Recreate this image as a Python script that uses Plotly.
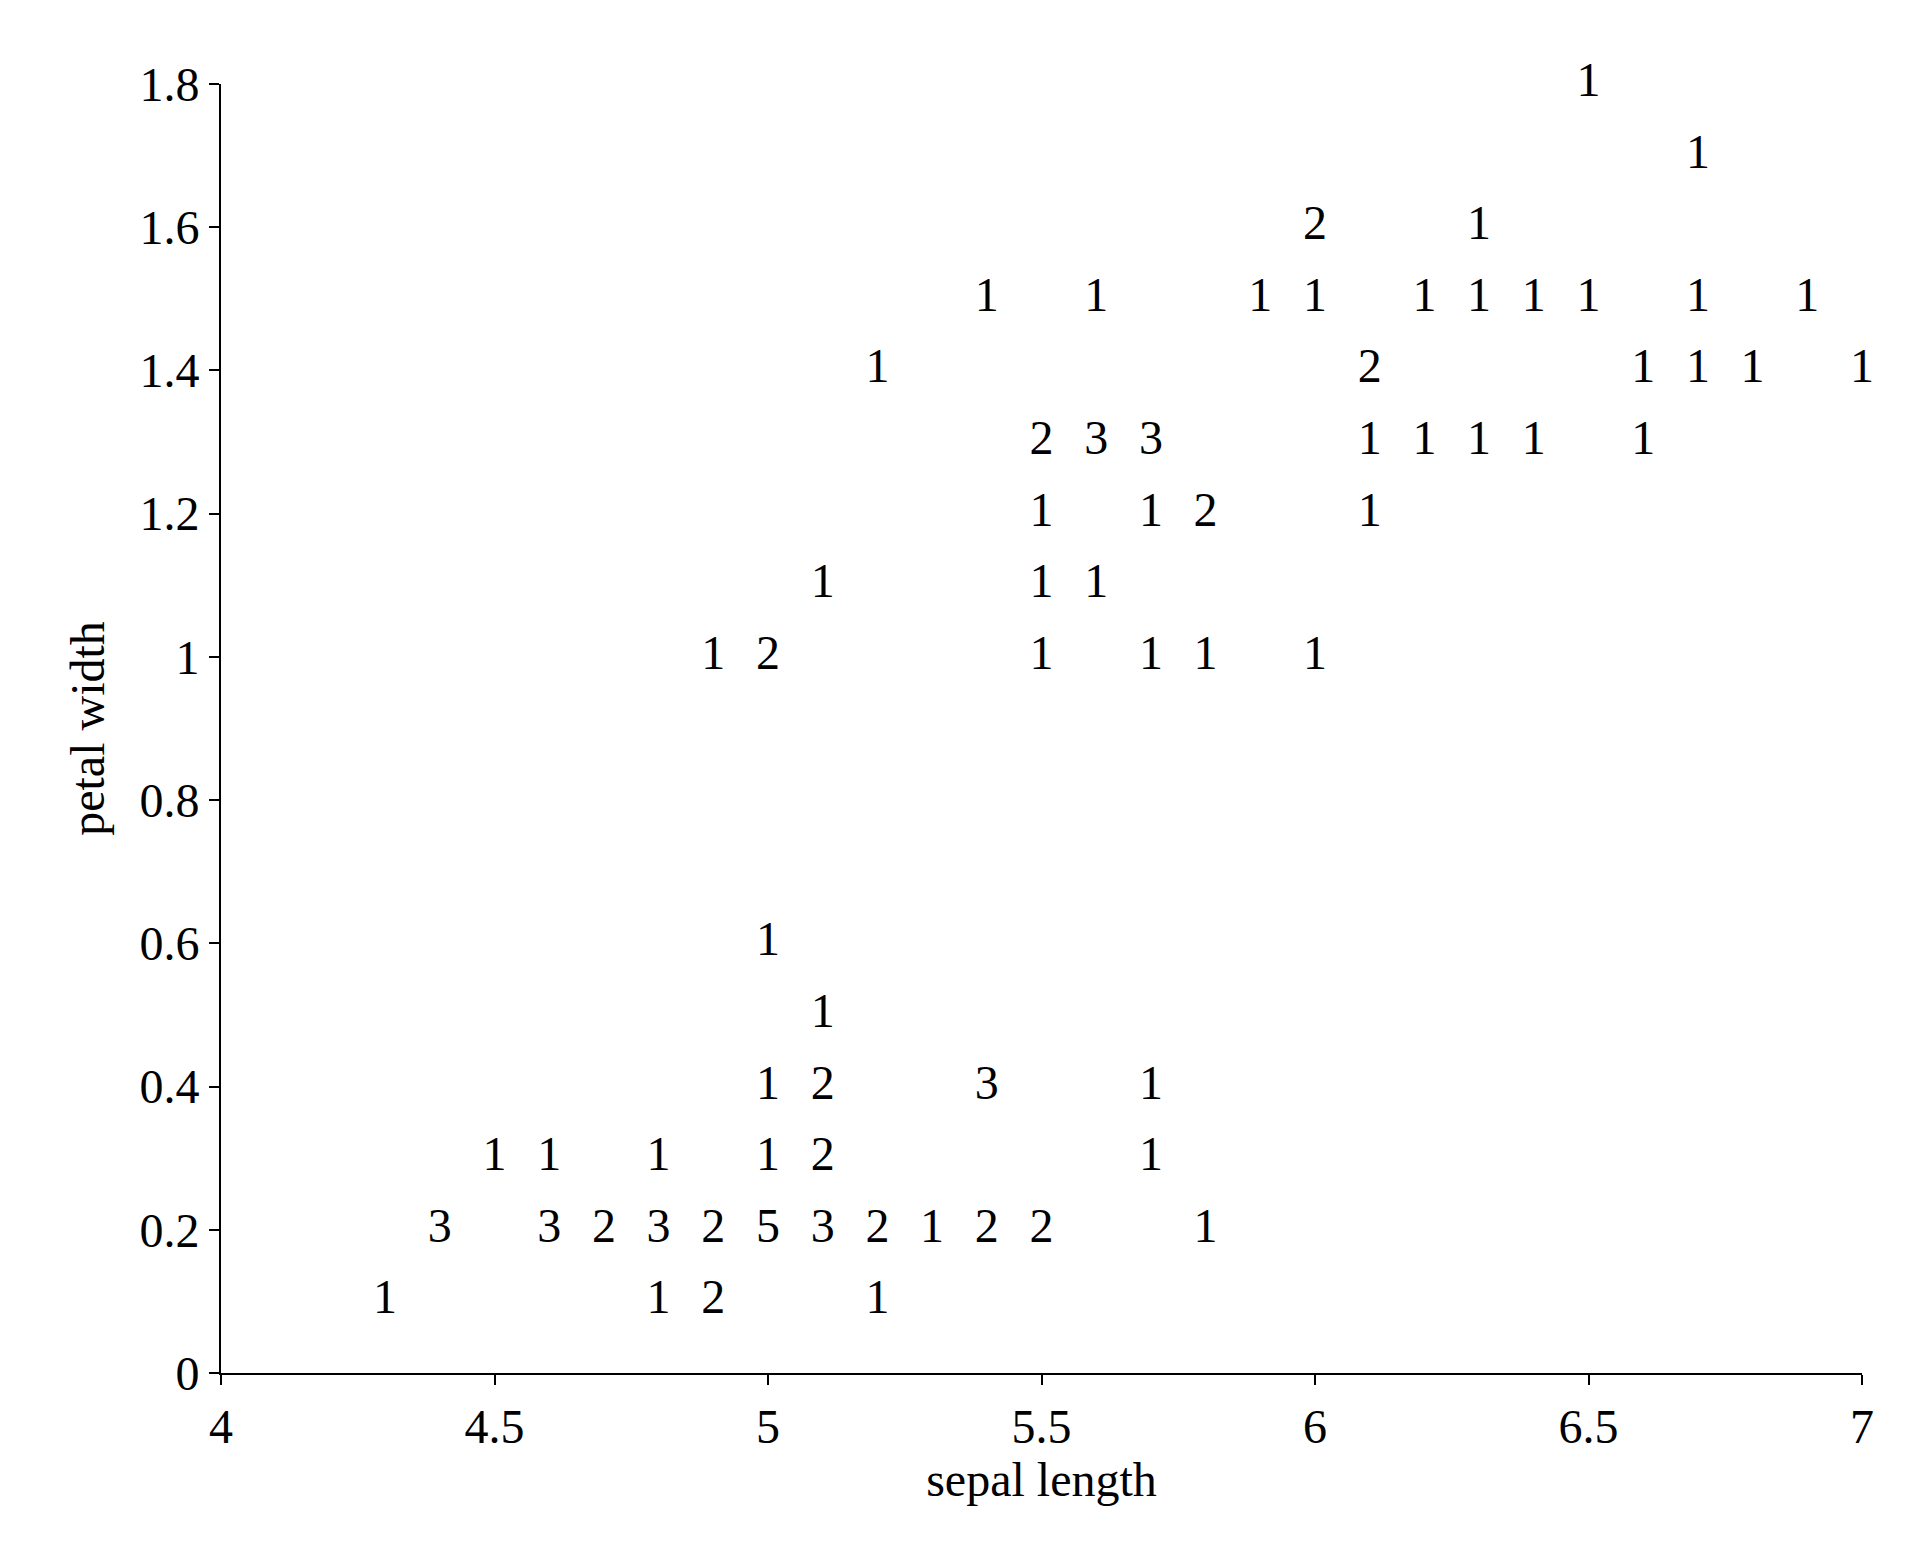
import plotly.graph_objects as go

x_vals = [6.5, 6.7, 6.0, 6.3,
          5.4, 5.6, 5.9, 6.0, 6.2, 6.3, 6.4, 6.5, 6.7, 6.9,
          5.2, 6.1, 6.6, 6.7, 6.8, 7.0,
          5.5, 5.6, 5.7, 6.1, 6.2, 6.3, 6.4, 6.6,
          5.5, 5.7, 5.8, 6.1,
          5.1, 5.5, 5.6,
          4.9, 5.0, 5.5, 5.7, 5.8, 6.0,
          5.0, 5.1,
          5.0, 5.1, 5.4, 5.7,
          4.5, 4.6, 4.8, 5.0, 5.1, 5.7,
          4.4, 4.6, 4.7, 4.8, 4.9, 5.0, 5.1, 5.2, 5.3, 5.4, 5.5, 5.8,
          4.3, 4.8, 4.9, 5.2]
y_vals = [1.8, 1.7, 1.6, 1.6,
          1.5, 1.5, 1.5, 1.5, 1.5, 1.5, 1.5, 1.5, 1.5, 1.5,
          1.4, 1.4, 1.4, 1.4, 1.4, 1.4,
          1.3, 1.3, 1.3, 1.3, 1.3, 1.3, 1.3, 1.3,
          1.2, 1.2, 1.2, 1.2,
          1.1, 1.1, 1.1,
          1.0, 1.0, 1.0, 1.0, 1.0, 1.0,
          0.6, 0.5,
          0.4, 0.4, 0.4, 0.4,
          0.3, 0.3, 0.3, 0.3, 0.3, 0.3,
          0.2, 0.2, 0.2, 0.2, 0.2, 0.2, 0.2, 0.2, 0.2, 0.2, 0.2, 0.2,
          0.1, 0.1, 0.1, 0.1]
counts = [1, 1, 2, 1,
          1, 1, 1, 1, 1, 1, 1, 1, 1, 1,
          1, 2, 1, 1, 1, 1,
          2, 3, 3, 1, 1, 1, 1, 1,
          1, 1, 2, 1,
          1, 1, 1,
          1, 2, 1, 1, 1, 1,
          1, 1,
          1, 2, 3, 1,
          1, 1, 1, 1, 2, 1,
          3, 3, 2, 3, 2, 5, 3, 2, 1, 2, 2, 1,
          1, 1, 2, 1]

font = dict(family="Liberation Serif", size=48, color="black")
fig = go.Figure(go.Scatter(x=x_vals, y=y_vals, mode="text", cliponaxis=False,
                           text=[str(c) for c in counts],
                           textposition="middle center", textfont=font))
ax = dict(showgrid=False, zeroline=False, showline=True, linecolor="black", linewidth=2,
          ticks="outside", ticklen=10, tickwidth=2, tickcolor="black", tickfont=font,
          title_font=font)
fig.update_xaxes(range=[4, 7], dtick=0.5, title_text="sepal length", title_standoff=10, **ax)
fig.update_yaxes(range=[0, 1.8], dtick=0.2, title_text="petal width", title_standoff=20, **ax)
fig.update_layout(width=1914, height=1553, plot_bgcolor="white", paper_bgcolor="white",
                  margin=dict(l=213, r=60, t=76, b=188), showlegend=False)
fig.write_html("out.html")
